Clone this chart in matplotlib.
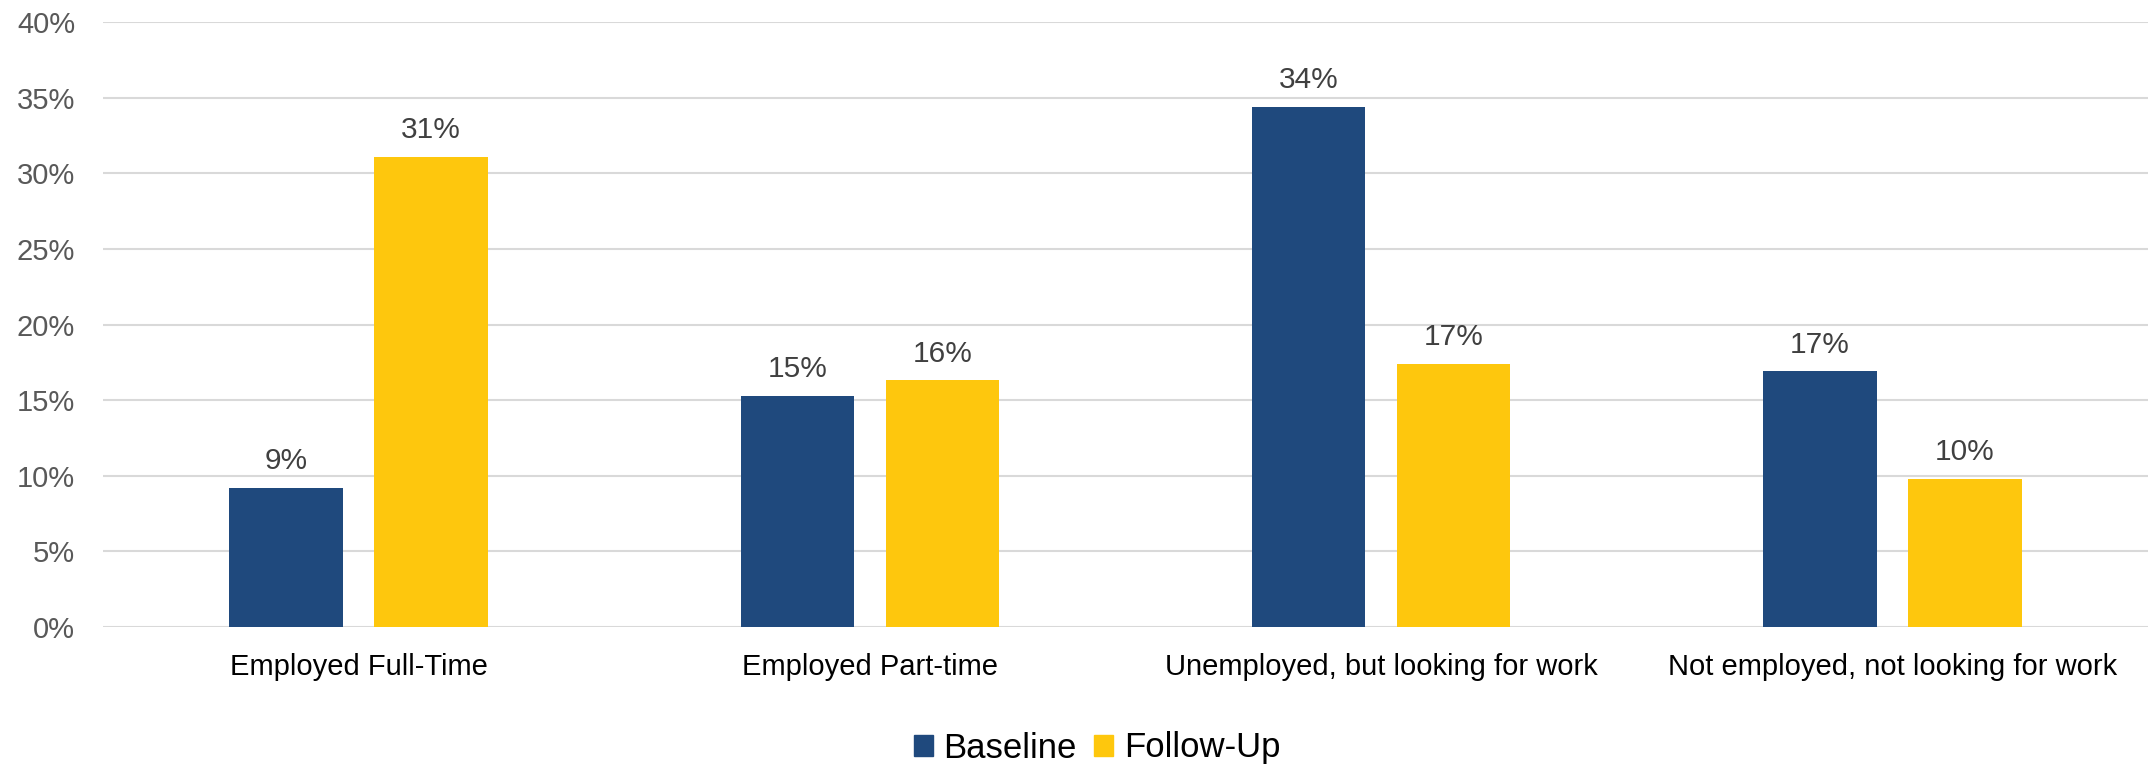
import numpy as np
import matplotlib
matplotlib.use("Agg")
import matplotlib.pyplot as plt
from matplotlib.patches import Patch

categories = ["Employed Full-Time", "Employed Part-time",
              "Unemployed, but looking for work", "Not employed, not looking for work"]
baseline = [9.2, 15.3, 34.4, 16.9]
followup = [31.1, 16.3, 17.4, 9.8]
baseline_labels = ["9%", "15%", "34%", "17%"]
followup_labels = ["31%", "16%", "17%", "10%"]

blue = "#1f497d"
yellow = "#fec70d"

plt.rcParams["font.family"] = ["Liberation Sans", "DejaVu Sans"]

W, H = 2148, 766
fig = plt.figure(figsize=(W / 100, H / 100), dpi=100)
ax = fig.add_axes([103 / W, 1 - 627 / H, (W - 103) / W, (627 - 22) / H])

x = np.arange(len(categories))
bw = 0.222
off = 0.142
b1 = ax.bar(x - off, baseline, bw, color=blue, zorder=3)
b2 = ax.bar(x + off, followup, bw, color=yellow, zorder=3)

for bars, labs in ((b1, baseline_labels), (b2, followup_labels)):
    for r, lab in zip(bars, labs):
        ax.annotate(lab, (r.get_x() + r.get_width() / 2, r.get_height()),
                    xytext=(0, 9), textcoords="offset points",
                    ha="center", va="bottom", fontsize=21.5, color="#404040")

ax.set_xlim(-0.5, len(categories) - 0.5)
ax.set_ylim(0, 40)
ax.set_yticks(np.arange(0, 41, 5))
ax.set_yticklabels([f"{v}%" for v in range(0, 41, 5)])
ax.tick_params(axis="y", length=0, pad=20, labelsize=21, labelcolor="#595959")
ax.set_xticks(x)
ax.set_xticklabels(categories)
ax.tick_params(axis="x", length=0, pad=19, labelsize=21, labelcolor="#000000")
ax.grid(axis="y", color="#d9d9d9", linewidth=1.5, zorder=0)
for s in ax.spines.values():
    s.set_visible(False)

handles = [Patch(color=blue, label="Baseline"), Patch(color=yellow, label="Follow-Up")]
fig.legend(handles=handles, loc="center", bbox_to_anchor=(1097 / W, 1 - 748 / H),
           ncol=2, frameon=False, fontsize=25, handlelength=0.55, handleheight=0.55,
           handletextpad=0.3, columnspacing=0.5, borderpad=0.2)

fig.savefig("out.png", dpi=100)
